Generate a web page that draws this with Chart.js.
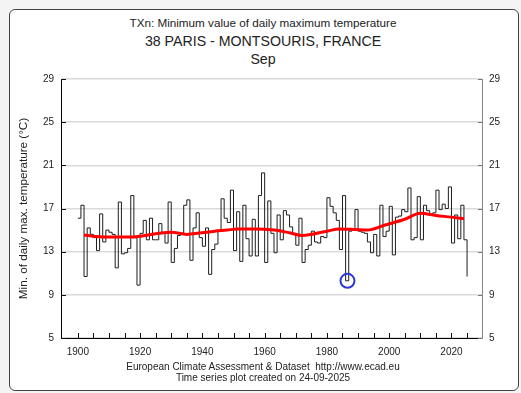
<!DOCTYPE html>
<html>
<head>
<meta charset="utf-8">
<script src="https://cdn.jsdelivr.net/npm/chart.js@4.4.1/dist/chart.umd.min.js"></script>
<style>
  body { margin: 0; background: #f4f4f4; font-family: "Liberation Sans", Arial, sans-serif; color: #222; }
  #frame { position: absolute; left: 9px; top: 9px; width: 508px; height: 380px; background: #fff; border: 1px solid #444; border-radius: 6px; }
  #chart { position: absolute; left: 0; top: 0; }
  .txt { position: absolute; left: 0; width: 526px; text-align: center; white-space: pre; line-height: 1; }
</style>
</head>
<body>
<div id="frame"></div>
<div class="txt" style="top:17px;font-size:11.7px">TXn: Minimum value of daily maximum temperature</div>
<div class="txt" style="top:33.5px;font-size:14.2px">38 PARIS - MONTSOURIS, FRANCE</div>
<div class="txt" style="top:51.5px;font-size:14.2px">Sep</div>
<canvas id="chart" width="521" height="393"></canvas>
<div class="txt" style="top:362px;font-size:10px">European Climate Assessment &amp; Dataset  http://www.ecad.eu</div>
<div class="txt" style="top:373px;font-size:10px">Time series plot created on 24-09-2025</div>
<script>
// September TXn, Paris-Montsouris, one value per year from 1900
const firstYear = 1900;
const txn = [
  16.1, 17.3, 10.7, 15.2, 14.6, 14.3, 13.1, 16.5, 13.9, 15.0,
  14.8, 14.6, 11.5, 17.6, 12.8, 12.9, 13.3, 18.2, 14.3, 9.9,
  14.7, 15.9, 14.1, 16.1, 14.1, 14.1, 15.6, 14.7, 13.8, 17.6,
  12.0, 13.3, 14.5, 14.7, 17.3, 17.8, 12.2, 15.2, 16.6, 14.3,
  13.5, 15.2, 10.9, 13.2, 13.7, 14.9, 17.9, 16.1, 15.7, 18.7,
  13.1, 16.7, 12.1, 17.3, 14.2, 12.6, 16.0, 12.6, 18.2, 20.3,
  12.0, 17.7, 14.7, 12.9, 16.4, 14.1, 16.8, 16.4, 15.3, 14.7,
  13.6, 16.1, 12.0, 13.2, 13.6, 14.9, 13.9, 13.8, 14.4, 14.3,
  18.0, 17.2, 16.6, 15.9, 13.2, 18.2, 10.3, 14.9, 15.1, 16.9,
  14.9, 14.8, 14.7, 13.9, 12.9, 14.6, 12.6, 17.3, 14.4, 14.9,
  17.2, 12.7, 16.2, 16.3, 16.9, 16.7, 18.9, 14.1, 14.3, 18.1,
  14.1, 17.3, 16.8, 16.4, 16.6, 18.7, 16.9, 17.4, 17.0, 19.0,
  13.8, 16.4, 14.2, 17.3, 14.1, 10.7
];

// smoothed curve (red), read at a few years
const smoothYears = [1902, 1906, 1910, 1916, 1921, 1926, 1930, 1935, 1939, 1944, 1948, 1951, 1957, 1963, 1968, 1972, 1975, 1980, 1984, 1989, 1993, 1999, 2005, 2010, 2015, 2020, 2024];
const smoothVals = [14.55, 14.4, 14.35, 14.35, 14.47, 14.7, 14.8, 14.6, 14.72, 14.9, 15.0, 15.1, 15.1, 15.0, 14.75, 14.5, 14.6, 14.9, 15.1, 15.05, 15.0, 15.5, 16.0, 16.55, 16.35, 16.2, 16.05];

// circled minimum
const markYears = [1986.6];
const markVals = [10.3];

const xTicks = [1895, 1900, 1905, 1910, 1915, 1920, 1925, 1930, 1935, 1940, 1945, 1950, 1955, 1960, 1965, 1970, 1975, 1980, 1985, 1990, 1995, 2000, 2005, 2010, 2015, 2020, 2025];
const yTicks = [5, 9, 13, 17, 21, 25, 29];

const tickFont = { family: 'Liberation Sans, Arial, sans-serif', size: 10 };

// small inward tick marks like the original plot
const innerTicks = {
  id: 'innerTicks',
  afterDraw(c) {
    const ctx = c.ctx;
    const a = c.chartArea;
    ctx.save();
    ctx.strokeStyle = '#111';
    ctx.lineWidth = 1;
    ctx.beginPath();
    c.scales.x.ticks.forEach((t) => {
      const px = Math.round(c.scales.x.getPixelForValue(t.value)) + 0.5;
      if (px > a.left + 2 && px < a.right - 2) {
        ctx.moveTo(px, a.bottom);
        ctx.lineTo(px, a.bottom - 5);
      }
    });
    c.scales.y.ticks.forEach((t) => {
      const py = Math.round(c.scales.y.getPixelForValue(t.value)) + 0.5;
      ctx.moveTo(a.left, py);
      ctx.lineTo(a.left + 5, py);
    });
    ctx.stroke();
    ctx.strokeStyle = '#777';
    ctx.beginPath();
    c.scales.y2.ticks.forEach((t) => {
      const py = Math.round(c.scales.y2.getPixelForValue(t.value)) + 0.5;
      ctx.moveTo(a.right, py);
      ctx.lineTo(a.right - 4, py);
    });
    ctx.stroke();
    ctx.restore();
  },
};

new Chart(document.getElementById('chart'), {
  type: 'line',
  data: {
    datasets: [
      {
        data: txn.map((v, i) => ({ x: firstYear + i, y: v })),
        borderColor: '#1e1e1e',
        borderWidth: 1,
        stepped: true,
        pointRadius: 0,
        order: 3,
      },
      {
        data: smoothYears.map((yr, i) => ({ x: yr, y: smoothVals[i] })),
        borderColor: '#ff0000',
        borderWidth: 3,
        cubicInterpolationMode: 'monotone',
        pointRadius: 0,
        order: 2,
      },
      {
        type: 'scatter',
        data: markYears.map((yr, i) => ({ x: yr, y: markVals[i] })),
        pointStyle: 'circle',
        pointRadius: 7,
        borderColor: '#2a3ad0',
        borderWidth: 2,
        backgroundColor: 'rgba(0,0,0,0)',
        order: 1,
      },
    ],
  },
  options: {
    responsive: false,
    animation: false,
    layout: { padding: { top: 79, left: 0, right: 0, bottom: 0 } },
    plugins: { legend: { display: false }, tooltip: { enabled: false } },
    scales: {
      x: {
        type: 'linear',
        min: 1894.6,
        max: 2029.8,
        afterBuildTicks: (s) => { s.ticks = xTicks.map((v) => ({ value: v })); },
        afterFit: (s) => { s.height = 55; },
        ticks: {
          autoSkip: false,
          maxRotation: 0,
          padding: 8,
          color: '#222',
          font: tickFont,
          callback: (v) => (v % 20 === 0 ? String(v) : ''),
        },
        grid: { drawOnChartArea: false, drawTicks: false },
        border: { color: '#000', width: 1 },
      },
      y: {
        position: 'left',
        min: 5,
        max: 29,
        afterBuildTicks: (s) => { s.ticks = yTicks.map((v) => ({ value: v })); },
        afterFit: (s) => { s.width = 61; },
        ticks: { padding: 7, color: '#222', font: tickFont },
        grid: { color: '#dadada', lineWidth: 1.5, drawTicks: false },
        border: { color: '#000', width: 1 },
        title: {
          display: true,
          text: 'Min. of daily max. temperature (°C)',
          color: '#222',
          font: { family: 'Liberation Sans, Arial, sans-serif', size: 11.7 },
          padding: { top: 17, bottom: 0 },
        },
      },
      y2: {
        position: 'right',
        min: 5,
        max: 29,
        afterBuildTicks: (s) => { s.ticks = yTicks.map((v) => ({ value: v })); },
        afterFit: (s) => { s.width = 39; },
        ticks: { padding: 7, color: '#222', font: tickFont },
        grid: { drawOnChartArea: false, drawTicks: false },
        border: { color: '#888', width: 1 },
      },
    },
  },
  plugins: [innerTicks],
});
</script>
</body>
</html>
